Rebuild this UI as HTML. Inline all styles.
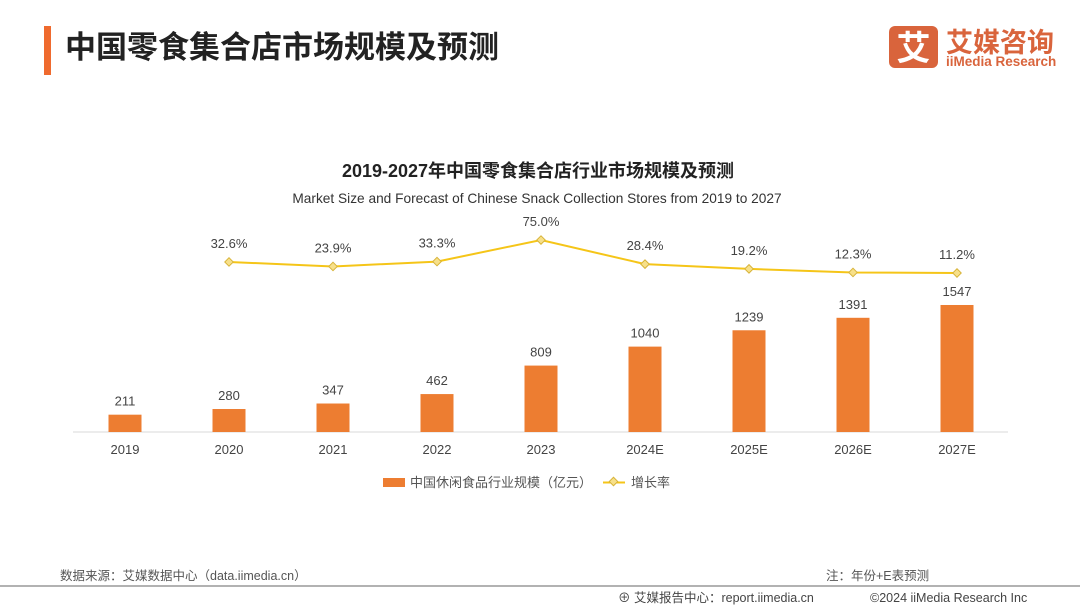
<!DOCTYPE html>
<html><head><meta charset="utf-8"><style>
html,body{margin:0;padding:0;background:#fff;}
body{width:1080px;height:608px;overflow:hidden;position:relative;font-family:"Liberation Sans","Noto Sans CJK SC",sans-serif;}
</style></head><body>
<svg width="1080" height="608" xmlns="http://www.w3.org/2000/svg" style="position:absolute;left:0;top:0" font-family="Liberation Sans, Noto Sans CJK SC, sans-serif">
<rect x="44" y="26" width="7" height="49" fill="#ef6a2e"/>
<text x="65" y="58" font-size="31" font-weight="bold" fill="#222">中国零食集合店市场规模及预测</text>
<g>
<rect x="889" y="26" width="49" height="42" rx="6" fill="#d9643c"/>
<text x="913.5" y="60" font-size="34" font-weight="bold" fill="#fff" text-anchor="middle">艾</text>
<text x="946" y="52" font-size="27" font-weight="bold" fill="#d9643c">艾媒咨询</text>
<text x="946" y="66" font-size="13.5" font-weight="bold" fill="#d9643c">iiMedia Research</text>
</g>
<text x="538" y="177" font-size="18" font-weight="bold" fill="#222" text-anchor="middle">2019-2027年中国零食集合店行业市场规模及预测</text>
<text x="537" y="203" font-size="13.7" fill="#333" text-anchor="middle">Market Size and Forecast of Chinese Snack Collection Stores from 2019 to 2027</text>
<line x1="73" y1="432" x2="1008" y2="432" stroke="#d9d9d9" stroke-width="1"/>
<g id="bars"></g><g id="line"></g><g id="xlabels"></g>
<g>
<rect x="383" y="478" width="22" height="9" fill="#ed7d31"/>
<text x="410" y="487" font-size="13" fill="#555">中国休闲食品行业规模（亿元）</text>
<line x1="603" y1="482.5" x2="625" y2="482.5" stroke="#f5c518" stroke-width="2"/>
<rect x="610.5" y="478.5" width="6" height="6" transform="rotate(45 613.5 481.5)" fill="#f7e08a" stroke="#d8b43a" stroke-width="1"/>
<text x="631" y="487" font-size="13" fill="#555">增长率</text>
</g>
<text x="60" y="580" font-size="12.5" fill="#555">数据来源：艾媒数据中心（data.iimedia.cn）</text>
<text x="826" y="580" font-size="12.5" fill="#555">注：年份+E表预测</text>
<line x1="0" y1="586" x2="1080" y2="586" stroke="#999" stroke-width="1.5"/>
<text x="618" y="602" font-size="12.5" fill="#444">⊕ 艾媒报告中心：report.iimedia.cn</text>
<text x="870" y="602" font-size="12.5" fill="#444">©2024  iiMedia Research  Inc</text>
</svg>
<script>
const categories=["2019","2020","2021","2022","2023","2024E","2025E","2026E","2027E"];
const sizes=[211,280,347,462,809,1040,1239,1391,1547];
const growth=[null,32.6,23.9,33.3,75.0,28.4,19.2,12.3,11.2];
const NS="http://www.w3.org/2000/svg";
const x=i=>125+i*104;
const yb=v=>432-v*0.0821;
const yl=v=>278.8-v*0.517;
function mk(t,a,p){const e=document.createElementNS(NS,t);for(const k in a)e.setAttribute(k,a[k]);p.appendChild(e);return e;}
const bg=document.getElementById('bars'),lg=document.getElementById('line'),xg=document.getElementById('xlabels');
sizes.forEach((v,i)=>{
 const r=mk('rect',{x:x(i)-16.5,y:yb(v),width:33,height:432-yb(v),fill:'#ed7d31'},bg);
 
 
 const t=mk('text',{x:x(i),y:yb(v)-9,'font-size':13,fill:'#444','text-anchor':'middle'},bg);t.textContent=v;
 
 
 const c=mk('text',{x:x(i),y:454,'font-size':13,fill:'#444','text-anchor':'middle'},xg);c.textContent=categories[i];
 
 
});
let pts=[];growth.forEach((g,i)=>{if(g!==null)pts.push([x(i),yl(g),g]);});
const pl=mk('polyline',{points:pts.map(p=>p[0]+','+p[1]).join(' '),fill:'none',stroke:'#f5c518','stroke-width':2},lg);


pts.forEach(p=>{
 const m=mk('rect',{x:p[0]-3,y:p[1]-3,width:6,height:6,transform:`rotate(45 ${p[0]} ${p[1]})`,fill:'#f7e08a',stroke:'#d8b43a','stroke-width':1},lg);
 
 
 const t=mk('text',{x:p[0],y:p[1]-14,'font-size':13,fill:'#444','text-anchor':'middle'},lg);t.textContent=p[2].toFixed(1)+'%';
 
 
});
</script>
</body></html>
